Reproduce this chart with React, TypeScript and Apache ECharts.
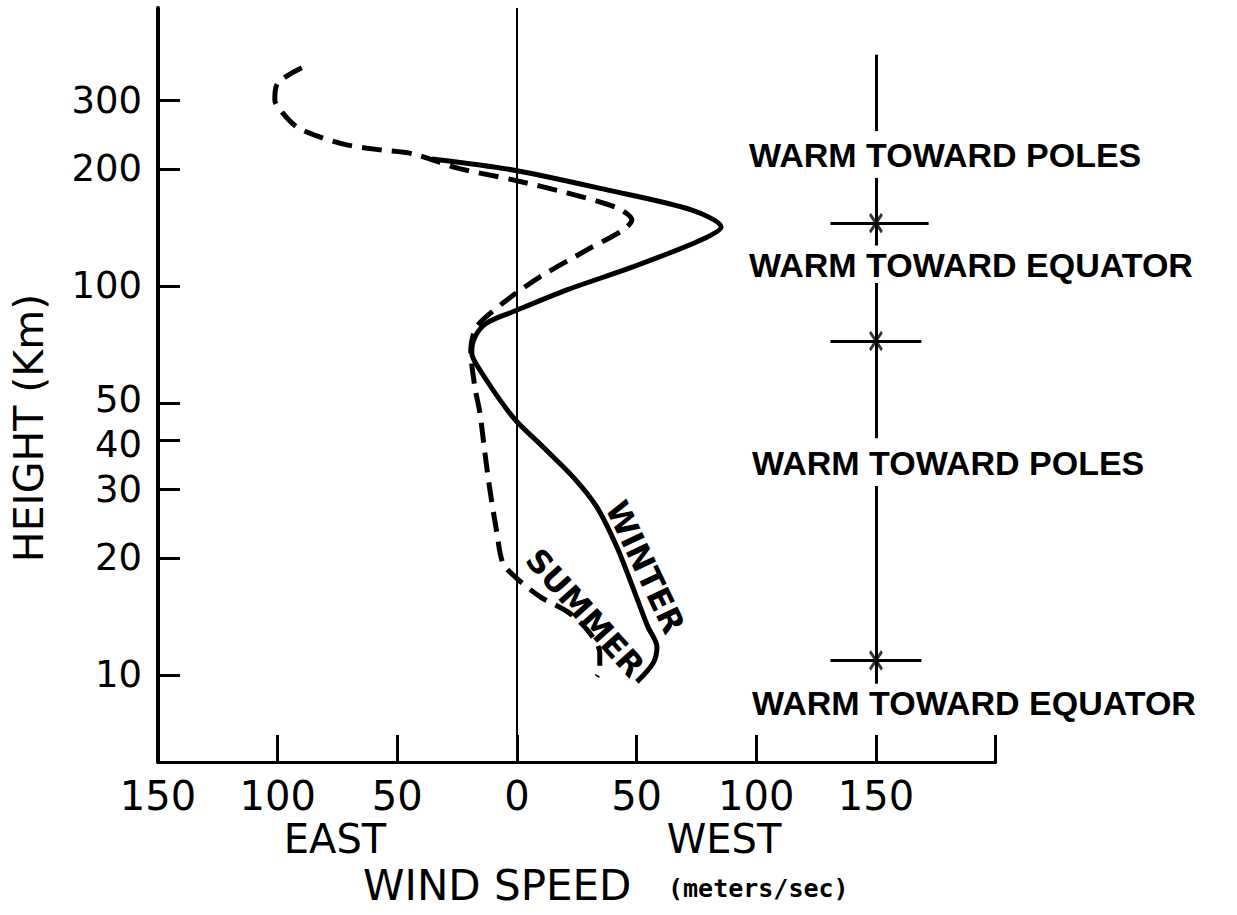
import React, { useEffect, useRef } from "react";
import * as echarts from "echarts";

// Axis ticks
const heightTicks = [10, 20, 30, 40, 50, 100, 200, 300];
const heightMin = 5.975;
const heightMax = 518;
const speedMin = -150;
const speedMax = 200;
const speedStep = 50;

// Winter (solid) profile: wind speed (m/s, west positive) vs height (km)
const winterSpeed = [-35.6, -1.7, 37.6, 72.8, 85.3, 76.9, 48.4, 20.9, -1.7, -12.6, -17.6, -18.9, -15.5, -1.7, 10.8, 23.4, 33.4, 41.8, 48.4, 54.7, 58.5, 56.8, 50.1];
const winterHeight = [212, 198.6, 176.5, 156.8, 141.8, 131.3, 111.9, 97.7, 85.8, 80.3, 73.9, 67.3, 60.8, 46.0, 38.6, 32.3, 27.0, 21.3, 16.8, 13.3, 11.8, 10.7, 9.6];

// Summer (dashed) profile
const summerSpeed = [-89.9, -99.9, -101.2, -97.9, -92.0, -82.4, -71.1, -57.2, -43.5, -25.1, -1.7, 20.9, 41.8, 48.0, 44.3, 29.2, 9.6, -4.2, -14.3, -17.6, -19.3, -17.6, -15.5, -13.4, -11.3, -8.4, -5.9, -0.9, 9.6, 22.1, 30.5, 34.6, 34.6, 33.4];
const summerHeight = [363.5, 332.5, 300.8, 278.4, 256.3, 241.5, 230.4, 223.7, 218.5, 201.1, 187.3, 173.4, 158.7, 147.8, 139.3, 123.7, 105.5, 92.0, 81.8, 77.1, 68.5, 55.0, 47.2, 37.2, 29.9, 23.2, 19.4, 17.9, 15.9, 14.4, 12.8, 11.4, 10.3, 9.9];

// Right-hand regime scale
const scaleSpeed = 150;
const scaleSegments = [
  [393, 250],
  [189.5, 127],
  [101.8, 40.6],
  [30.6, 9.5],
];
const boundaryHeights = [145, 72.2, 10.9];
const crossLeft = [131, 131, 131];
const crossRight = [172, 169, 169];

const lg = (v: number) => Math.log10(v);
const zip = (xs: number[], hs: number[]) => xs.map((x, i) => [x, lg(hs[i])]);

export default function App() {
  const ref = useRef<HTMLDivElement>(null);
  useEffect(() => {
    if (!ref.current) return;
    const chart = echarts.init(ref.current, undefined, { renderer: "svg" });
    const tickVals = heightTicks.map(lg);
    const black = "#000";
    const numFont = "DejaVu Sans";
    const boldFont = "Liberation Sans";

    const segLines = scaleSegments.map((s) => [
      { coord: [scaleSpeed, lg(s[0])] },
      { coord: [scaleSpeed, lg(s[1])] },
    ]);
    const crossLines = boundaryHeights.map((h, i) => [
      { coord: [crossLeft[i], lg(h)] },
      { coord: [crossRight[i], lg(h)] },
    ]);

    const regimeText = (text: string, x: number, y: number) => ({
      type: "text",
      x,
      y,
      style: {
        text,
        fill: black,
        fontSize: 34,
        fontWeight: "bold",
        fontFamily: boldFont,
        align: "left",
        verticalAlign: "middle",
      },
    });

    const yLabelBase = { fontSize: 37, fontFamily: numFont, color: black };

    chart.setOption({
      animation: false,
      backgroundColor: "#fff",
      grid: { left: 158, right: 241.4, top: 8, bottom: 153 },
      xAxis: {
        type: "value",
        min: speedMin,
        max: speedMax,
        interval: speedStep,
        axisLine: { show: true, onZero: false, lineStyle: { color: black, width: 3 } },
        axisTick: { show: true, inside: true, length: 27, lineStyle: { color: black, width: 3 } },
        axisLabel: {
          formatter: (v: number) => (v === speedMax ? "" : String(Math.abs(v))),
          fontSize: 40,
          fontFamily: numFont,
          color: black,
          margin: 14,
        },
        splitLine: { show: false },
      },
      yAxis: {
        type: "value",
        min: lg(heightMin),
        max: lg(heightMax),
        axisLine: { show: true, onZero: false, lineStyle: { color: black, width: 4 } },
        axisTick: {
          show: true,
          inside: true,
          length: 22,
          customValues: tickVals,
          lineStyle: { color: black, width: 3 },
        },
        axisLabel: {
          customValues: tickVals,
          formatter: (v: number) => {
            const h = Math.round(Math.pow(10, v));
            if (h === 50) return "{up|" + h + "}";
            if (h === 40) return "{dn|" + h + "}";
            return "{n|" + h + "}";
          },
          rich: {
            n: { ...yLabelBase },
            up: { ...yLabelBase, padding: [0, 0, 7, 0] },
            dn: { ...yLabelBase, padding: [7, 0, 0, 0] },
          },
          margin: 16,
        },
        splitLine: { show: false },
      },
      series: [
        {
          name: "WINTER",
          type: "line",
          data: zip(winterSpeed, winterHeight),
          showSymbol: false,
          smooth: 0.3,
          lineStyle: { color: black, width: 5 },
          z: 4,
          markLine: {
            silent: true,
            symbol: ["none", "none"],
            label: { show: false },
            lineStyle: { color: black, width: 2, type: "solid" },
            data: [{ xAxis: 0 }],
          },
        },
        {
          name: "SUMMER",
          type: "line",
          data: zip(summerSpeed, summerHeight),
          showSymbol: false,
          smooth: 0.3,
          lineStyle: { color: black, width: 5, type: [20, 10] },
          z: 3,
        },
        {
          name: "regimes",
          type: "scatter",
          data: boundaryHeights.map((h) => [scaleSpeed, lg(h)]),
          symbol: "path://M0,0L14,20M14,0L0,20",
          symbolSize: [12, 18],
          itemStyle: { color: "none", borderColor: black, borderWidth: 3 },
          z: 5,
          markLine: {
            silent: true,
            symbol: ["none", "none"],
            label: { show: false },
            lineStyle: { color: black, width: 3, type: "solid" },
            data: [...segLines, ...crossLines],
          },
        },
      ],
      graphic: [
        regimeText("WARM TOWARD POLES", 749, 155),
        regimeText("WARM TOWARD EQUATOR", 749, 265),
        regimeText("WARM TOWARD POLES", 752, 463),
        regimeText("WARM TOWARD EQUATOR", 752, 703),
        {
          type: "text",
          x: 645,
          y: 567,
          rotation: -1.13,
          style: { text: "WINTER", fill: black, fontSize: 32, fontWeight: "bold", fontFamily: numFont, align: "center", verticalAlign: "middle" },
        },
        {
          type: "text",
          x: 585,
          y: 613,
          rotation: -0.84,
          style: { text: "SUMMER", fill: black, fontSize: 32, fontWeight: "bold", fontFamily: numFont, align: "center", verticalAlign: "middle" },
        },
        {
          type: "text",
          x: 335,
          y: 839,
          style: { text: "EAST", fill: black, fontSize: 40, fontFamily: numFont, align: "center", verticalAlign: "middle" },
        },
        {
          type: "text",
          x: 724,
          y: 839,
          style: { text: "WEST", fill: black, fontSize: 40, fontFamily: numFont, align: "center", verticalAlign: "middle" },
        },
        {
          type: "text",
          x: 363,
          y: 885,
          style: { text: "WIND SPEED", fill: black, fontSize: 42, fontFamily: numFont, align: "left", verticalAlign: "middle" },
        },
        {
          type: "text",
          x: 668,
          y: 888,
          style: { text: "(meters/sec)", fill: black, fontSize: 25, fontWeight: "bold", fontFamily: "DejaVu Sans Mono", align: "left", verticalAlign: "middle" },
        },
        {
          type: "text",
          x: 29,
          y: 428,
          rotation: Math.PI / 2,
          style: { text: "HEIGHT (Km)", fill: black, fontSize: 41, fontFamily: numFont, align: "center", verticalAlign: "middle" },
        },
      ],
    });
    return () => chart.dispose();
  }, []);
  return (
    <div
      ref={ref}
      style={{ position: "fixed", left: 0, top: 0, width: 1237, height: 915, background: "#fff" }}
    />
  );
}
